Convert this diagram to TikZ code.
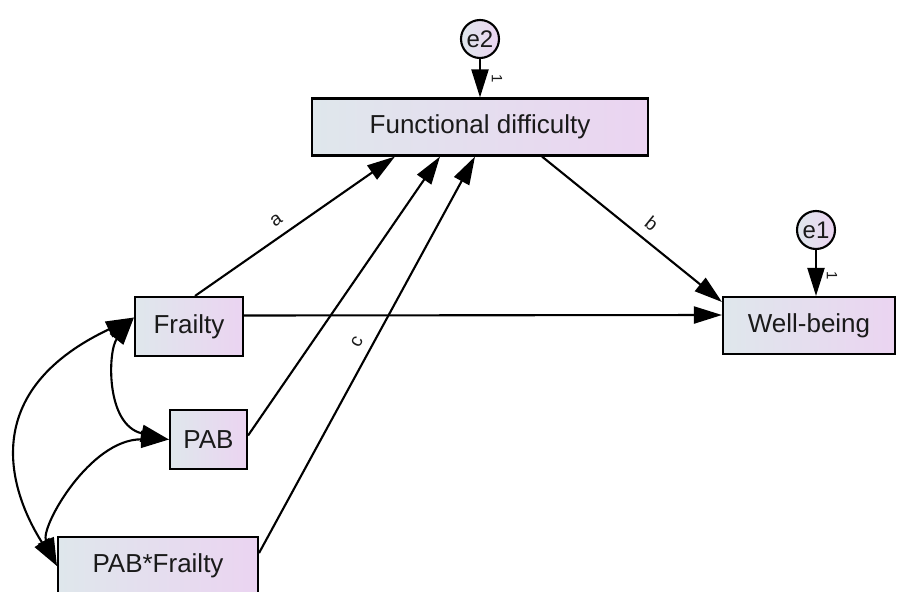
\documentclass[tikz,border=0pt]{standalone}
\usepackage{fontspec}
\setmainfont{Liberation Sans}
\usepackage{tikz}
\usetikzlibrary{arrows.meta}

\definecolor{boxleft}{HTML}{DFE7EC}
\definecolor{boxright}{HTML}{EBD4F1}
\definecolor{inkgray}{HTML}{1A1A1A}

\begin{document}
\begin{tikzpicture}[x=1pt, y=1pt, line width=2.1pt,
  every node/.style = {align=center, text=inkgray},
  var/.style = {draw, rectangle, inner sep=0pt, left color=boxleft, right color=boxright,
    font=\fontsize{26}{30}\selectfont},
  err/.style = {draw, circle, minimum size=38pt, inner sep=0pt, left color=boxleft,
    right color=boxright, font=\fontsize{24}{28}\selectfont},
  reg/.style = {draw, -{Triangle[length=28pt,width=17pt]}},
  cov/.style = {draw, {Triangle[length=28pt,width=17pt]}-{Triangle[length=28pt,width=17pt]}},
  lbl/.style = {font=\fontsize{19}{22}\selectfont, sloped, above=9pt, inner sep=0pt},
  one/.style = {font=\fontsize{15}{18}\selectfont, rotate=-90, inner sep=0pt}]
  \useasboundingbox (0,0) rectangle (898,-592);
  \node[var, minimum width=336pt, minimum height=57pt] (fd) at (480,-127) {Functional difficulty};
  \node[var, minimum width=172pt, minimum height=57pt] (wb) at (809,-325.5) {Well-being};
  \node[var, minimum width=108pt, minimum height=59pt] (frailty) at (189,-326.5) {Frailty};
  \node[var, minimum width=77pt, minimum height=59pt] (pab) at (208.5,-439.5) {PAB};
  \node[var, minimum width=200pt, minimum height=58pt] (pabf) at (158,-566) {PAB*Frailty};
  \node[err] (e2) at (480,-39) {e2};
  \node[err] (e1) at (816,-230) {e1};
  \node[one] (one2) at ([xshift=17pt,yshift=-20pt]e2.south) {1};
  \node[one] (one1) at ([xshift=16pt,yshift=-26pt]e1.south) {1};
  % error terms
  \path [reg] (e2) -- (e2 |- fd.north);
  \path [reg] (e1) -- (e1 |- wb.north);
  % regressions
  \path [reg] ([xshift=6pt]frailty.north) -- ([xshift=-85pt]fd.south) node[lbl, pos=.45] {a};
  \path [reg] ([yshift=4pt]pab.east) -- ([xshift=-40pt]fd.south);
  \path [reg] ([yshift=13pt]pabf.east) -- ([xshift=-5pt]fd.south) node[lbl, pos=.515] {c};
  \path [reg] ([xshift=62pt]fd.south) -- ([yshift=23.5pt]wb.west) node[lbl, pos=.55] {b};
  \path [reg] ([yshift=11pt]frailty.east) -- ([yshift=10.5pt]wb.west);
  % covariances
  \path [cov] ([yshift=9pt]frailty.west) .. controls (-30,-395) and (15,-500) .. (pabf.west);
  \path [cov] ([yshift=9pt]frailty.west) .. controls (108,-350) and (105,-425) .. (pab.west);
  \path [cov] (pab.west) .. controls (90,-439) and (40,-527) .. (pabf.west);
\end{tikzpicture}
\end{document}
